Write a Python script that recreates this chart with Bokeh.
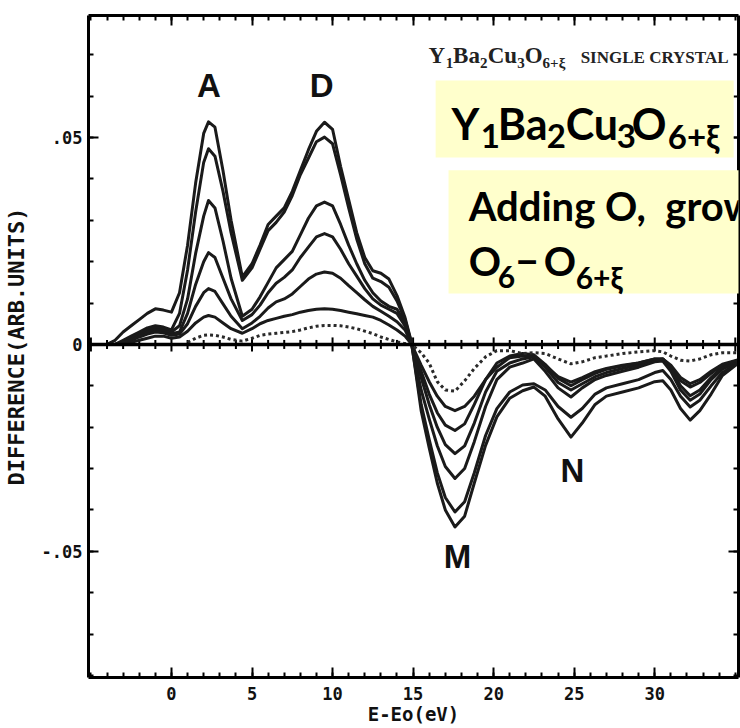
import numpy as np
from bokeh.plotting import figure
from bokeh.models import (Range1d, FixedTicker, LinearAxis, CustomJSTickFormatter,
                          Label, BoxAnnotation, Span)
from bokeh.embed import file_html
from bokeh.resources import INLINE

# ---------------- data ----------------
energy = [-4, -3.5, -3, -2.5, -2, -1.5, -1, -0.5, 0, 0.5, 1, 1.5, 2, 2.3, 2.7, 3.2, 3.7, 4.4,
          5, 5.5, 6, 6.5, 7, 7.5, 8, 8.5, 9, 9.5, 10, 10.5, 11, 11.5, 12, 12.5, 13, 13.5,
          14, 14.5, 14.9, 15.5, 16, 16.5, 17, 17.6, 18.2, 18.8, 19.5, 20.2, 21, 21.8, 22.5,
          23.2, 24, 24.8, 25.5, 26.3, 27, 28, 29, 30, 30.5, 31, 31.6, 32.2, 32.8, 33.5, 34.2, 35.2]

c1 = [0, 0.001, 0.003, 0.0045, 0.006, 0.0075, 0.0086, 0.0083,
      0.0078, 0.0125, 0.024, 0.039, 0.051,
      0.0538, 0.0525, 0.042, 0.030, 0.0163,
      0.0195, 0.024, 0.029, 0.031, 0.033, 0.037, 0.042, 0.047, 0.0515, 0.0537,
      0.052, 0.043, 0.035, 0.027, 0.021, 0.0178, 0.0172, 0.0158, 0.0118, 0.0065,
      0.0005,
      -0.016, -0.025, -0.0335, -0.040, -0.0441,
      -0.0415, -0.0335, -0.0244, -0.0175,
      -0.013, -0.0112, -0.0103, -0.0125, -0.018, -0.0224,
      -0.019, -0.0145, -0.0125, -0.0115, -0.0105, -0.009,
      -0.0088, -0.011, -0.0155, -0.0183, -0.016, -0.012, -0.0075, -0.0045]

c2 = [0, 0, 0.001, 0.002, 0.003, 0.004, 0.0045, 0.0042,
      0.0035, 0.0075, 0.018, 0.032, 0.044,
      0.0473, 0.0455, 0.037, 0.027, 0.0155,
      0.0185, 0.023, 0.0275, 0.0295, 0.032, 0.036, 0.041, 0.045, 0.049, 0.0501,
      0.0485, 0.041, 0.033, 0.0255, 0.0195, 0.016, 0.0152, 0.0138, 0.0105, 0.006,
      0.0003,
      -0.0145, -0.023, -0.031, -0.0370, -0.0405,
      -0.038, -0.031, -0.022, -0.0155,
      -0.0115, -0.0098, -0.0095, -0.011, -0.0150, -0.0176,
      -0.0155, -0.0120, -0.0105, -0.0095, -0.0085, -0.0068,
      -0.0063, -0.0085, -0.0125, -0.0151, -0.0135, -0.010, -0.0068, -0.0045]

c3 = [0, 0, 0.0005, 0.0015, 0.0025, 0.0035, 0.004, 0.0038,
      0.003, 0.0045, 0.011, 0.022, 0.031,
      0.0348, 0.033, 0.025, 0.016, 0.0068,
      0.0085, 0.0115, 0.015, 0.0185, 0.0205, 0.0225, 0.0265, 0.0305, 0.0335, 0.0344,
      0.0335, 0.029, 0.024, 0.0195, 0.0155, 0.0125, 0.0105, 0.0092, 0.0085, 0.0055,
      0.0002,
      -0.011, -0.018, -0.0245, -0.0295, -0.0324,
      -0.030, -0.0235, -0.015, -0.0085,
      -0.0055, -0.0045, -0.0035, -0.0065, -0.0105, -0.0127,
      -0.0105, -0.0085, -0.0075, -0.0065, -0.0055, -0.0042,
      -0.004, -0.0065, -0.0110, -0.0135, -0.012, -0.0085, -0.006, -0.0042]

c4 = [0, 0, 0.0005, 0.0012, 0.002, 0.003, 0.0035, 0.0033,
      0.0026, 0.003, 0.0075, 0.0145, 0.020,
      0.0222, 0.021, 0.016, 0.011, 0.0058,
      0.0072, 0.0095, 0.0125, 0.0148, 0.0162, 0.018, 0.021, 0.0235, 0.026, 0.0268,
      0.026, 0.023, 0.0195, 0.0165, 0.0135, 0.011, 0.0095, 0.0085, 0.0075, 0.0045,
      0.0002,
      -0.008, -0.0145, -0.020, -0.0242, -0.0264,
      -0.0245, -0.019, -0.0115, -0.0065,
      -0.0045, -0.0035, -0.003, -0.0055, -0.0092, -0.011,
      -0.0095, -0.0078, -0.0068, -0.0058, -0.005, -0.0038,
      -0.0035, -0.006, -0.010, -0.0124, -0.011, -0.008, -0.0055, -0.0040]

c5 = [0, 0, 0.0005, 0.001, 0.0018, 0.0025, 0.003, 0.0028,
      0.0022, 0.0025, 0.005, 0.0092, 0.0125,
      0.0135, 0.0128, 0.0098, 0.0068, 0.0038,
      0.0052, 0.0068, 0.0088, 0.0103, 0.011, 0.0122, 0.014, 0.0158, 0.017, 0.0175,
      0.0172, 0.016, 0.0142, 0.0125, 0.0108, 0.0092, 0.008, 0.0068, 0.0055, 0.0035,
      0.0002,
      -0.0065, -0.012, -0.0165, -0.0195, -0.0208,
      -0.0192, -0.0145, -0.0085, -0.0045,
      -0.0028, -0.0022, -0.0025, -0.0048, -0.0082, -0.0100,
      -0.0085, -0.007, -0.006, -0.0052, -0.0045, -0.0035,
      -0.0035, -0.0055, -0.0088, -0.0103, -0.0092, -0.007, -0.005, -0.0038]

c6 = [0, 0, 0, 0.0005, 0.001, 0.0015, 0.002, 0.002,
      0.0015, 0.0018, 0.0032, 0.0052, 0.0066,
      0.007, 0.0066, 0.0052, 0.0038, 0.0027,
      0.0038, 0.005, 0.0058, 0.0063, 0.0068, 0.0072, 0.0078, 0.0082, 0.0085, 0.0086,
      0.0085, 0.0082, 0.0078, 0.0074, 0.007, 0.0066, 0.0058, 0.0047, 0.0035, 0.002,
      0.0001,
      -0.005, -0.009, -0.0125, -0.015, -0.016,
      -0.015, -0.0125, -0.0085, -0.0055,
      -0.0032, -0.0028, -0.003, -0.005, -0.0078, -0.0091,
      -0.008, -0.0066, -0.0058, -0.005, -0.0045, -0.0035,
      -0.0035, -0.005, -0.008, -0.0095, -0.0085, -0.0065, -0.0048, -0.0037]

nan = float("nan")
c_dot = [nan, nan, nan, nan, nan, nan, nan, nan,
         nan, nan, 0.0005, 0.0015, 0.0022,
         0.0023, 0.0022, 0.0018, 0.0012, 0.0008,
         0.0015, 0.0022, 0.0025, 0.0027, 0.0029, 0.0031, 0.0035, 0.004, 0.0044, 0.0046,
         0.0046, 0.0045, 0.0042, 0.0038, 0.0032, 0.0026, 0.0018, 0.0012, 0.0006, 0.0002,
         0,
         -0.002, -0.0045, -0.009, -0.011, -0.0113,
         -0.0088, -0.0058, -0.003, -0.0015,
         -0.0015, -0.0022, -0.002, -0.0022, -0.0035, -0.0047,
         -0.0042, -0.0032, -0.0028, -0.0022, -0.0018, -0.0015,
         -0.0018, -0.0028, -0.0038, -0.004, -0.0035, -0.0025, -0.002, -0.002]

solid_curves = [c1, c2, c3, c4, c5, c6]

x_major = [0, 5, 10, 15, 20, 25, 30]
x_minor = list(range(-5, 36))
y_major = [-0.05, 0, 0.05]
y_minor = [-0.08, -0.07, -0.06, -0.05, -0.04, -0.03, -0.02, -0.01, 0,
           0.01, 0.02, 0.03, 0.04, 0.05, 0.06, 0.07, 0.08]

# ---------------- figure ----------------
Y_LO, Y_HI = -0.0805, 0.0795
FRAME_H = 728 - 15 - 51
PX_PER_Y = FRAME_H / (Y_HI - Y_LO)

p = figure(width=740, height=728, output_backend="svg", toolbar_location=None,
           x_range=Range1d(-5.15, 35.2), y_range=Range1d(Y_LO, Y_HI),
           min_border_left=88, min_border_right=2, min_border_top=15, min_border_bottom=51)
p.grid.visible = False
p.outline_line_color = None
p.background_fill_color = "white"
p.border_fill_color = "white"

MONO = "DejaVu Sans Mono"


def style_axis(ax, show_labels):
    ax.axis_line_width = 3
    ax.axis_line_color = "black"
    ax.major_tick_in = 10
    ax.major_tick_out = 0
    ax.minor_tick_in = 5
    ax.minor_tick_out = 0
    ax.major_tick_line_width = 2
    ax.minor_tick_line_width = 2
    ax.major_tick_line_color = "black"
    ax.minor_tick_line_color = "black"
    if show_labels:
        ax.major_label_text_font = MONO
        ax.major_label_text_font_style = "bold"
        ax.major_label_text_color = "#111111"
        ax.axis_label_text_font = MONO
        ax.axis_label_text_font_style = "bold"
        ax.axis_label_text_color = "#111111"
    else:
        ax.major_label_text_color = None
        ax.major_label_text_alpha = 0
        ax.major_label_text_font_size = "1px"
        ax.major_label_standoff = 0


xt = FixedTicker(ticks=x_major, minor_ticks=x_minor)
yt = FixedTicker(ticks=y_major, minor_ticks=y_minor)
yfmt = CustomJSTickFormatter(code="""
if (Math.abs(tick) < 1e-9) { return '0'; }
return tick.toFixed(2).replace('0.', '.');
""")

xa = p.xaxis[0]
xa.ticker = xt
xa.axis_label = "E-Eo(eV)"
style_axis(xa, True)
xa.major_label_text_font_size = "17px"
xa.axis_label_text_font_size = "19px"
xa.major_label_standoff = 9
xa.axis_label_standoff = 0

ya = p.yaxis[0]
ya.ticker = yt
ya.formatter = yfmt
ya.axis_label = "DIFFERENCE(ARB.UNITS)"
style_axis(ya, True)
ya.major_label_text_font_size = "17px"
ya.axis_label_text_font_size = "22px"
ya.major_label_standoff = 6
ya.axis_label_standoff = 10

top_ax = LinearAxis(ticker=FixedTicker(ticks=x_major, minor_ticks=x_minor))
style_axis(top_ax, False)
p.add_layout(top_ax, "above")
right_ax = LinearAxis(ticker=FixedTicker(ticks=y_major, minor_ticks=y_minor))
style_axis(right_ax, False)
p.add_layout(right_ax, "right")

# zero line with its own small ticks
p.add_layout(Span(location=0, dimension="width", line_color="black", line_width=3.5))
tick_sizes = [14 if v % 5 == 0 else 9 for v in x_minor]
p.scatter(x=x_minor, y=[0] * len(x_minor), marker="dash", angle=np.pi / 2,
          size=tick_sizes, line_color="black", line_width=2)

# curves
for c in solid_curves:
    p.line(energy, c, line_color="#1a1a1a", line_width=3, line_join="round")
p.line(energy, c_dot, line_color="#2a2a2a", line_width=3, line_dash="3 3")


def add_text(txt, x, baseline_y, size, font, align="left", color="black"):
    # place the visual middle of the capitals 0.35 em above the wanted baseline
    y_mid = baseline_y + 0.35 * size / PX_PER_Y
    p.add_layout(Label(x=x, y=y_mid, text=txt, text_font=font, text_font_style="bold",
                       text_font_size=f"{size}px", text_align=align,
                       text_baseline="middle", text_color=color))


# peak labels
for txt, x, y in [("A", 2.32, 0.0597), ("D", 9.32, 0.0597),
                  ("M", 17.75, -0.0541), ("N", 24.89, -0.0333)]:
    add_text(txt, x, y, 33, "Liberation Sans", align="center", color="#111111")

# scanned caption
SERIF = "Liberation Serif"
caption = [("Y", 15.96, 0.0679, 23), ("1", 17.02, 0.0667, 15), ("Ba", 17.48, 0.0679, 23),
           ("2", 19.16, 0.0667, 15), ("Cu", 19.63, 0.0679, 23), ("3", 21.46, 0.0667, 15),
           ("O", 21.93, 0.0679, 23), ("6+ξ", 23.04, 0.0667, 15),
           ("SINGLE CRYSTAL", 25.40, 0.0679, 17)]
for txt, x, y, s in caption:
    add_text(txt, x, y, s, SERIF, color="#222222")

# yellow overlay boxes
YEL = "#FFFFCC"
p.add_layout(BoxAnnotation(left=16.4, right=34.9, top=0.0638, bottom=0.0452,
                           fill_color=YEL, fill_alpha=1, line_color=None))
p.add_layout(BoxAnnotation(left=17.2, right=36.5, top=0.0421, bottom=0.0123,
                           fill_color=YEL, fill_alpha=1, line_color=None))

SANS = "Lato"
box_text = [("Y", 17.39, 0.0498, 43), ("1", 19.2, 0.0476, 33), ("Ba", 20.25, 0.0498, 43),
            ("2", 23.29, 0.0476, 33), ("Cu", 24.47, 0.0498, 43), ("3", 27.64, 0.0476, 33),
            ("O", 28.57, 0.0498, 43), ("6+ξ", 30.81, 0.0476, 33),
            ("Adding O,\u00a0 grow", 18.45, 0.0300, 40),
            ("O", 18.45, 0.0167, 40), ("6", 20.25, 0.0138, 30), ("\u2212", 21.35, 0.0167, 40),
            ("O", 23.11, 0.0167, 40), ("6+ξ", 25.09, 0.0138, 30)]
for txt, x, y, s in box_text:
    add_text(txt, x, y, s, SANS)

open("out.html", "w").write(file_html(p, INLINE))
